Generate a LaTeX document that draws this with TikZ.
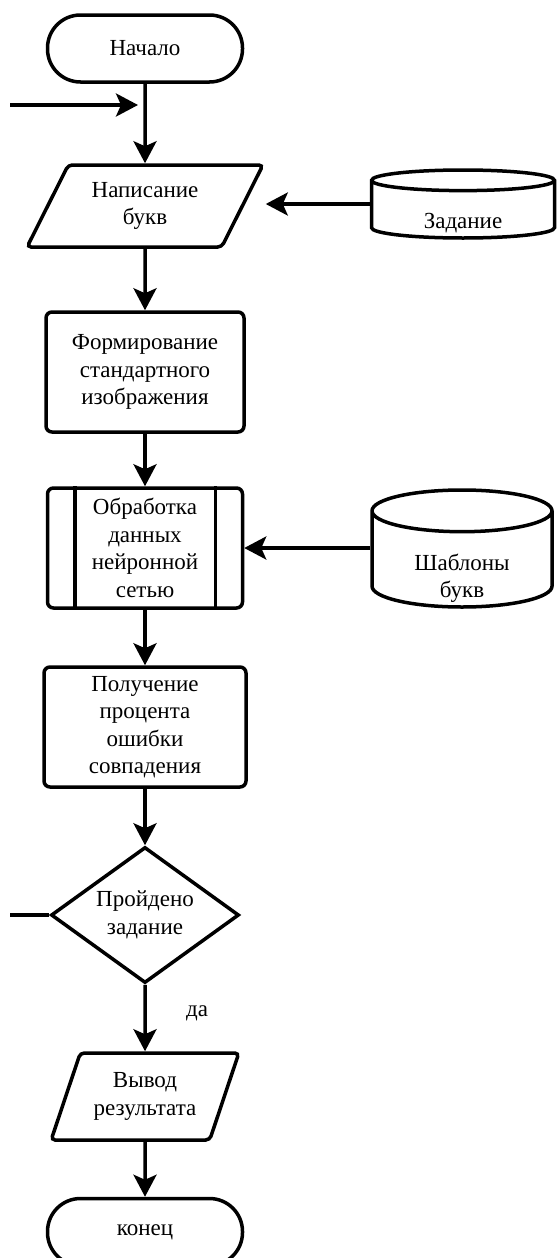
\documentclass[tikz,border=0pt]{standalone}
\usepackage{fontspec}
\setmainfont{Liberation Serif}
\usetikzlibrary{arrows.meta,positioning,shapes.geometric}

\newcommand{\lowtext}[2]{\raisebox{-#1}[0pt][0pt]{\begin{tabular}[t]{@{}c@{}}#2\end{tabular}}}

\tikzset{
  base/.style={draw, line width=3.5pt, align=center, font=\fontsize{23}{27.5}\selectfont, inner sep=2pt},
  terminal/.style={base, rounded corners=33pt, minimum width=195pt, minimum height=67pt},
  inout/.style={base, trapezium, trapezium left angle=60, trapezium right angle=120, trapezium stretches=true, rounded corners=4pt},
  procbox/.style={base, rectangle, rounded corners=6pt, minimum width=198pt, minimum height=120pt},
  decide/.style={base, diamond, aspect=1.38, minimum width=188pt, minimum height=136pt, inner sep=0pt},
  store/.style={base, cylinder, shape border rotate=90, aspect=0.25, anchor=shape center},
  arr/.style={line width=3.5pt, -{Stealth[length=22pt,width=23pt,inset=5pt]}},
  link/.style={line width=3.5pt}
}

\begin{document}
\begin{tikzpicture}[x=1pt,y=-1pt]
\useasboundingbox (0,0) rectangle (557,1258);

\node[terminal] (start) at (145,48.5) {Начало};
\node[inout, minimum width=236pt, minimum height=82pt] (in) at (145,206) {Написание\\букв};
\node[store, minimum width=183pt, minimum height=68pt] (zad) at (463,204) {\lowtext{17pt}{Задание}};
\node[procbox] (form) at (145,372) {Формирование\\стандартного\\изображения};
\node[procbox, minimum width=195pt] (proc) at (145,548) {Обработка\\данных\\нейронной\\сетью};
\node[store, minimum width=180pt, minimum height=117pt, aspect=0.42] (shab) at (462,548.5) {\lowtext{8.5pt}{Шаблоны\\букв}};
\node[procbox, minimum width=202pt] (calc) at (145,727) {Получение\\процента\\ошибки\\совпадения};
\node[decide] (dec) at (145,915) {Пройдено\\задание};
\node[inout, trapezium left angle=65, trapezium right angle=115, minimum width=188pt, minimum height=87pt] (out) at (145,1096.5) {Вывод\\результата};
\node[terminal] (stop) at (145,1232) {конец};
\node[font=\fontsize{23}{27.5}\selectfont] (yes) at (197,1013) {да};

\coordinate (back) at (10,105);
\coordinate (no) at (10,915);

% inner lines of the predefined process
\draw[link] ([xshift=29pt]proc.north west) -- ([xshift=29pt]proc.south west);
\draw[link] ([xshift=-29pt]proc.north east) -- ([xshift=-29pt]proc.south east);

\draw[arr] (start) -- (in);
\draw[arr, shorten >=7pt] (back) -- (back -| start.south);
\draw[arr] (zad.west |- zad.shape center) -- (zad.shape center -| in.top right corner);
\draw[arr] (in) -- (form);
\draw[arr] (form) -- (proc);
\draw[arr] (shab.west |- proc.east) -- (proc.east);
\draw[arr] (proc) -- (calc);
\draw[arr] (calc) -- (dec);
\draw[link] (dec.west) -- (no);
\draw[arr] (dec) -- (out);
\draw[arr] (out) -- (stop);
\end{tikzpicture}
\end{document}
